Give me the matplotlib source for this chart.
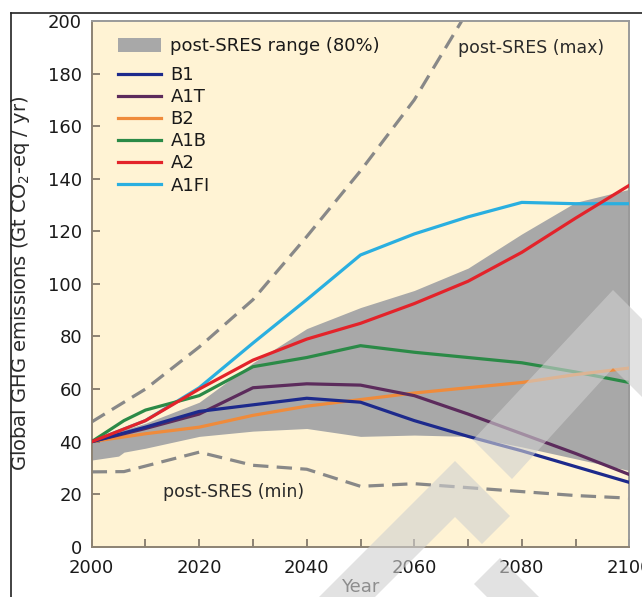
import matplotlib
matplotlib.use("Agg")
import matplotlib.pyplot as plt
from matplotlib.lines import Line2D
from matplotlib.patches import Patch, Polygon

plt.rcParams['font.family'] = ['DejaVu Sans']

# ---- data (Gt CO2-eq / yr) ----
years = [2000, 2010, 2020, 2030, 2040, 2050, 2060, 2070, 2080, 2090, 2100]
b1 = [40, 45.5, 51.5, 54, 56.5, 55, 48, 42, 36.5, 30.5, 24.5]
a1t = [40, 45, 50.5, 60.5, 62, 61.5, 57.5, 50.5, 43, 35.5, 27.5]
b2 = [40, 43, 45.5, 50, 53.5, 56, 58.5, 60.5, 62.5, 65.5, 68]
a2 = [40, 48, 60, 71, 79, 85, 92.5, 101, 112, 125, 137.5]
a1fi = [40, 48, 60.5, 77.5, 94, 111, 119, 125.5, 131, 130.5, 130.5]

a1b_years = [2000, 2006, 2010, 2020, 2030, 2040, 2050, 2060, 2070, 2080, 2090, 2100]
a1b = [40, 48, 52, 57.5, 68.5, 72, 76.5, 74, 72, 70, 66.5, 62.5]

band_years = [2000, 2005, 2006, 2010, 2020, 2030, 2040, 2050, 2060, 2070, 2080, 2090, 2100]
band_upper = [41, 44, 44.5, 47, 55, 70, 83, 91, 97.5, 106, 119, 131, 136]
band_lower = [33, 34.5, 36, 37.5, 42, 44, 45, 42, 42.5, 42, 38, 33.5, 29]

max_years = [2000, 2010, 2020, 2030, 2040, 2050, 2060, 2070]
max_vals = [47.5, 60, 76, 94, 118, 143, 170, 204]

min_years = [2000, 2006, 2020, 2030, 2040, 2050, 2060, 2070, 2080, 2090, 2100]
min_vals = [28.5, 28.6, 36, 31, 29.5, 23, 24, 22.5, 21, 19.5, 18.5]

series = [
    ("A1FI", years, a1fi, "#2aafe0"),
    ("A1B", a1b_years, a1b, "#2b8a47"),
    ("B2", years, b2, "#ef8b3b"),
    ("A1T", years, a1t, "#5c2b5c"),
    ("B1", years, b1, "#1d2a8c"),
    ("A2", years, a2, "#e3232a"),
]
legend_order = ["B1", "A1T", "B2", "A1B", "A2", "A1FI"]

W, H = 642, 597
fig = plt.figure(figsize=(W / 100, H / 100), dpi=100)
ax = fig.add_axes([91.7 / W, 1 - 546.8 / H, (629.3 - 91.7) / W, (546.8 - 21) / H])
ax.set_facecolor("#fff3d4")

band_color = "#a8a8a8"
ax.fill_between(band_years, band_lower, band_upper, color=band_color, lw=0, zorder=1)

dash_kw = dict(color="#888888", lw=2.3, dashes=(4.8, 2.6), zorder=2, solid_capstyle="butt")
ax.plot(max_years, max_vals, **dash_kw)
ax.plot(min_years, min_vals, **dash_kw)

lw = 2.3
handles = {}
for name, xs, ys, c in series:
    ax.plot(xs, ys, color=c, lw=lw, zorder=3, solid_joinstyle="round")
    handles[name] = Line2D([], [], color=c, lw=lw)

ax.set_xlim(2000, 2100)
ax.set_ylim(0, 200)
ax.set_xticks(range(2000, 2101, 20))
ax.set_xticks(range(2000, 2101, 10), minor=True)
ax.set_yticks(range(0, 201, 20))

spine_c = "#8c8273"
for s in ax.spines.values():
    s.set_color(spine_c)
    s.set_linewidth(1.4)
ax.spines["top"].set_color("#9a9a9a")
ax.spines["right"].set_color("#9a9a9a")
ax.tick_params(axis="both", which="both", direction="in", color=spine_c,
               width=1.4, labelsize=13, labelcolor="#1a1a1a")
ax.tick_params(axis="x", which="major", length=6, pad=9)
ax.tick_params(axis="x", which="minor", length=6)
ax.tick_params(axis="y", which="major", length=6, pad=7)

ax.set_ylabel(r"Global GHG emissions (Gt CO$_2$-eq / yr)", fontsize=14, color="#2a2a2a")
ax.yaxis.set_label_coords(-0.111, 0.5)
ax.set_xlabel("Year", fontsize=13, color="#2a2a2a")
ax.xaxis.set_label_coords(0.5, -0.0765)
ax.xaxis.label.set_va("center")

ax.text(2068.1, 189.9, "post-SRES (max)", fontsize=12.5, color="#2a2a2a",
        ha="left", va="center")
ax.text(2013.3, 20.8, "post-SRES (min)", fontsize=12.5, color="#2a2a2a",
        ha="left", va="center")

leg1 = ax.legend([Patch(facecolor=band_color, edgecolor="none")],
                 ["post-SRES range (80%)"], loc="upper left",
                 bbox_to_anchor=(0.049, 0.969), borderaxespad=0, borderpad=0,
                 frameon=False, fontsize=13, handlelength=2.4,
                 handleheight=0.85, handletextpad=0.5, labelcolor="#1a1a1a")
ax.add_artist(leg1)
ax.legend([handles[n] for n in legend_order], legend_order, loc="upper left",
          bbox_to_anchor=(0.049, 0.914), borderaxespad=0, borderpad=0,
          frameon=False, fontsize=13, handlelength=2.4, handletextpad=0.5,
          labelspacing=0.225, labelcolor="#1a1a1a")


def px(points):
    return [(x / W, 1 - y / H) for x, y in points]


# outer frame
fig.add_artist(Line2D([11 / W, 1], [1 - 13 / H] * 2, color="#222222", lw=1.2))
fig.add_artist(Line2D([11 / W] * 2, [0, 1 - 13 / H], color="#222222", lw=1.2))

# watermark strokes
wm = dict(facecolor="#d0d0d0", edgecolor="none", alpha=0.6, zorder=10,
          transform=fig.transFigure)
fig.add_artist(Polygon(px([(319, 597), (455, 461), (510, 516), (482, 544),
                           (455, 517), (375, 597)]), **wm))
fig.add_artist(Polygon(px([(500, 558), (539, 597), (487, 597), (474, 584)]), **wm))
fig.add_artist(Polygon(px([(473, 440), (613, 290), (642, 319), (642, 397),
                           (613, 368), (512, 479)]), **wm))

fig.savefig("out.png", dpi=100, facecolor="white")
